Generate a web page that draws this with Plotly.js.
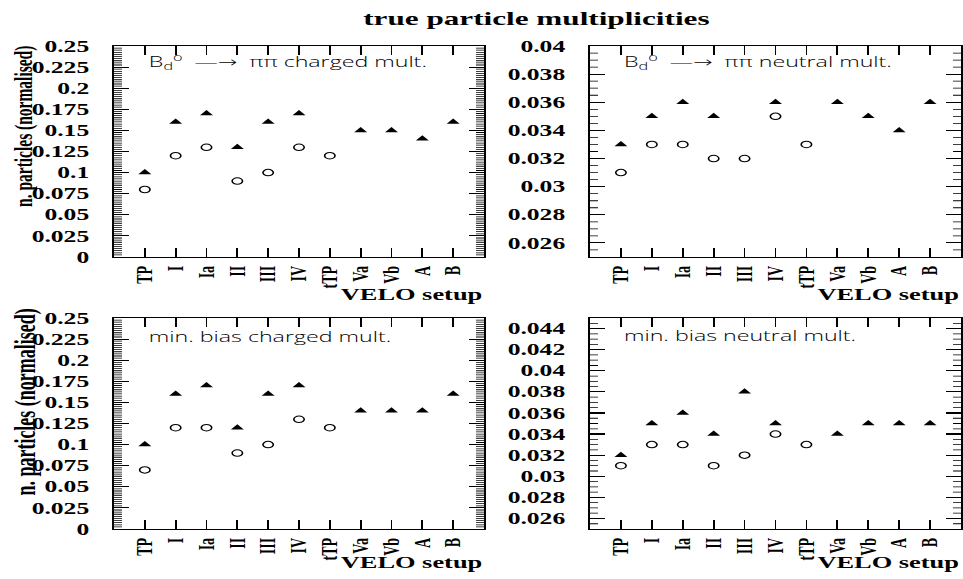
<!DOCTYPE html>
<html><head><meta charset="utf-8">
<script src="https://cdn.plot.ly/plotly-3.0.1.min.js"></script>
<style>
html,body{margin:0;padding:0;background:#fff;overflow:hidden;}
#wrap{width:963px;height:579px;overflow:hidden;position:relative;}
#chart{width:602px;height:579px;transform:scaleX(1.59967);transform-origin:0 0;}
</style></head><body><div id="wrap"><div id="chart"></div></div>
<script>
// VELO setups (categories)
const setups = ["TP","I","Ia","II","III","IV","tTP","Va","Vb","A","B"];

// Bd0 -> pi pi, charged multiplicity
const bdChargedTri  = [0.10,0.16,0.17,0.13,0.16,0.17,null,0.15,0.15,0.14,0.16];
const bdChargedCirc = [0.08,0.12,0.13,0.09,0.10,0.13,0.12,null,null,null,null];
// Bd0 -> pi pi, neutral multiplicity
const bdNeutralTri  = [0.033,0.035,0.036,0.035,null,0.036,null,0.036,0.035,0.034,0.036];
const bdNeutralCirc = [0.031,0.033,0.033,0.032,0.032,0.035,0.033,null,null,null,null];
// min. bias, charged multiplicity
const mbChargedTri  = [0.10,0.16,0.17,0.12,0.16,0.17,null,0.14,0.14,0.14,0.16];
const mbChargedCirc = [0.07,0.12,0.12,0.09,0.10,0.13,0.12,null,null,null,null];
// min. bias, neutral multiplicity
const mbNeutralTri  = [0.032,0.035,0.036,0.034,0.038,0.035,null,0.034,0.035,0.035,0.035];
const mbNeutralCirc = [0.031,0.033,0.033,0.031,0.032,0.034,0.033,null,null,null,null];

const panelLabels = ["B<sub>d</sub><sup>o</sup>  \u2014\u2192  \u03C0\u03C0 charged mult.",
                     "B<sub>d</sub><sup>o</sup>  \u2014\u2192  \u03C0\u03C0 neutral mult.",
                     "min. bias charged mult.",
                     "min. bias neutral mult."];
const mainTitle = "true particle multiplicities";
const yTitle = "n. particles (normalised)";
const xTitle = "VELO setup";

const W = 963, H = 579;
const fx = p => p / W;
const fy = p => 1 - p / H;
const serif = 'Liberation Serif, Times New Roman, serif';

function tri(y, xa, ya){ return {x: setups, y: y, xaxis: xa, yaxis: ya, type:'scatter', mode:'markers',
  marker:{symbol:'triangle-up', size:7, color:'#000', line:{width:0}}, showlegend:false}; }
function circ(y, xa, ya){ return {x: setups, y: y, xaxis: xa, yaxis: ya, type:'scatter', mode:'markers',
  marker:{symbol:'circle-open', size:6.5, color:'#000', line:{width:1, color:'#000'}}, showlegend:false}; }

const data = [
  tri(bdChargedTri,'x','y'), circ(bdChargedCirc,'x','y'),
  tri(bdNeutralTri,'x2','y2'), circ(bdNeutralCirc,'x2','y2'),
  tri(mbChargedTri,'x3','y3'), circ(mbChargedCirc,'x3','y3'),
  tri(mbNeutralTri,'x4','y4'), circ(mbNeutralCirc,'x4','y4')
];

function xax(domain, anchor){ return {domain:domain, anchor:anchor, type:'category', range:[-1,11],
  categoryorder:'array', categoryarray:setups,
  showline:true, linecolor:'#000', linewidth:1.3, mirror:'allticks',
  ticks:'inside', ticklen:9, tickwidth:1.1, tickcolor:'#000', tickangle:-90,
  tickfont:{family:serif, size:14, weight:'bold', color:'#000'}, ticklabelstandoff:2,
  showgrid:true, gridcolor:'rgba(0,0,0,0)', zeroline:false, automargin:false}; }
function yax(domain, anchor, range, dtick, minorDtick){ return {domain:domain, anchor:anchor, range:range,
  tick0:0, dtick:dtick, showline:true, linecolor:'#000', linewidth:1.3, mirror:'allticks',
  ticks:'inside', ticklen:9.5, tickwidth:1.1, tickcolor:'#000',
  minor:{dtick:minorDtick, ticks:'inside', ticklen:5, tickwidth:0.8, tickcolor:'#000', showgrid:false},
  tickfont:{family:serif, size:16, weight:'bold', color:'#000'}, ticklabelstandoff:11,
  showgrid:true, gridcolor:'rgba(0,0,0,0)', zeroline:false, automargin:false}; }

const xL = [fx(114), fx(484)], xR = [fx(590), fx(961)];
const yT = [fy(257), fy(46)], yB = [fy(529), fy(318)];

const annFont = {family:'Open Sans, DejaVu Sans, sans-serif', size:14.5, weight:300, color:'#000'};
const annotations = [
  {text:'<b>'+mainTitle+'</b>', xref:'paper', yref:'paper', x:fx(536), y:fy(19), xanchor:'center', yanchor:'middle', showarrow:false,
   font:{family:serif, size:19.5, color:'#000'}},
  {text:'<b>'+yTitle+'</b>', xref:'paper', yref:'paper', x:fx(24), y:fy(127), textangle:-90, xanchor:'center', yanchor:'middle', showarrow:false,
   font:{family:serif, size:15.5, color:'#000'}},
  {text:'<b>'+yTitle+'</b>', xref:'paper', yref:'paper', x:fx(25), y:fy(402), textangle:-90, xanchor:'center', yanchor:'middle', showarrow:false,
   font:{family:serif, size:18, color:'#000'}},
  {text:'<b>'+xTitle+'</b>', xref:'paper', yref:'paper', x:fx(484), y:fy(294), xanchor:'right', yanchor:'middle', showarrow:false,
   font:{family:serif, size:16.5, color:'#000'}},
  {text:'<b>'+xTitle+'</b>', xref:'paper', yref:'paper', x:fx(961), y:fy(294), xanchor:'right', yanchor:'middle', showarrow:false,
   font:{family:serif, size:16.5, color:'#000'}},
  {text:'<b>'+xTitle+'</b>', xref:'paper', yref:'paper', x:fx(484), y:fy(562), xanchor:'right', yanchor:'middle', showarrow:false,
   font:{family:serif, size:16.5, color:'#000'}},
  {text:'<b>'+xTitle+'</b>', xref:'paper', yref:'paper', x:fx(961), y:fy(562), xanchor:'right', yanchor:'middle', showarrow:false,
   font:{family:serif, size:16.5, color:'#000'}},
  {text:panelLabels[0], xref:'paper', yref:'paper', x:fx(145), y:fy(62), xanchor:'left', yanchor:'middle', showarrow:false, font:annFont},
  {text:panelLabels[1], xref:'paper', yref:'paper', x:fx(621), y:fy(62), xanchor:'left', yanchor:'middle', showarrow:false, font:annFont},
  {text:panelLabels[2], xref:'paper', yref:'paper', x:fx(145), y:fy(336), xanchor:'left', yanchor:'middle', showarrow:false, font:annFont},
  {text:panelLabels[3], xref:'paper', yref:'paper', x:fx(621), y:fy(335), xanchor:'left', yanchor:'middle', showarrow:false, font:annFont}
];

const layout = {
  width:602, height:579, margin:{l:0,r:0,t:0,b:0,pad:0},
  paper_bgcolor:'#fff', plot_bgcolor:'#fff', showlegend:false,
  xaxis: xax(xL,'y'), yaxis: yax(yT,'x',[0,0.25],0.025,0.0025),
  xaxis2: xax(xR,'y2'), yaxis2: yax(yT,'x2',[0.025,0.04],0.002,0.0005),
  xaxis3: xax(xL,'y3'), yaxis3: yax(yB,'x3',[0,0.25],0.025,0.0025),
  xaxis4: xax(xR,'y4'), yaxis4: yax(yB,'x4',[0.025,0.045],0.002,0.0005),
  annotations: annotations
};

Plotly.newPlot('chart', data, layout, {staticPlot:true, displayModeBar:false});
</script></body></html>
